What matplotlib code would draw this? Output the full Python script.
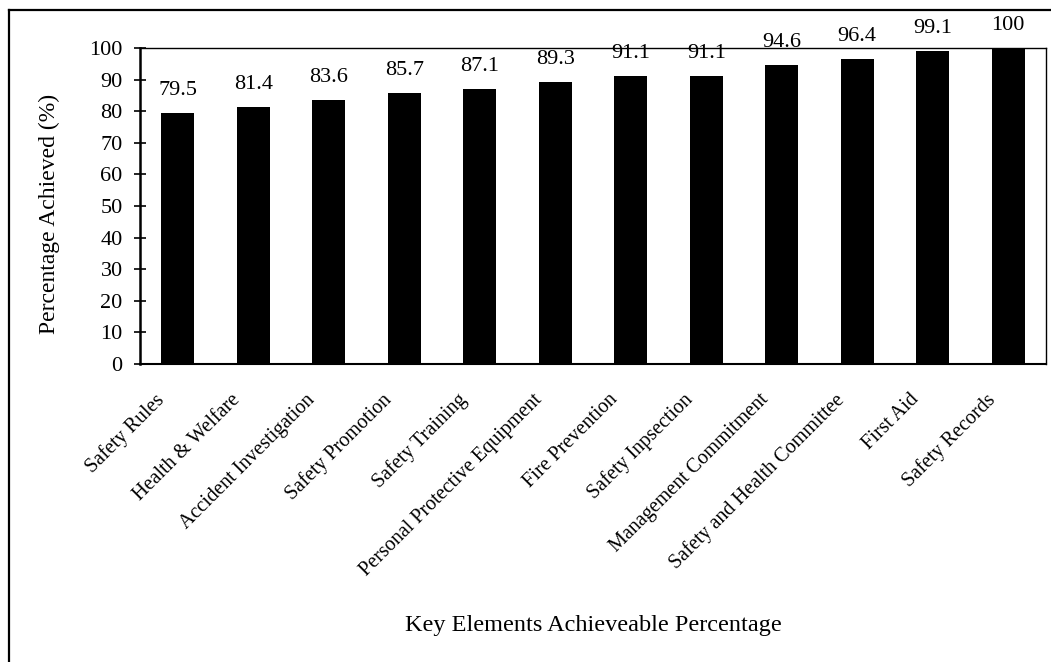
import matplotlib.pyplot as plt
from matplotlib.lines import Line2D
from matplotlib.transforms import ScaledTranslation

plt.rcParams['font.family'] = ['Liberation Serif', 'DejaVu Serif']

elements = ['Safety Rules', 'Health & Welfare', 'Accident Investigation',
            'Safety Promotion', 'Safety Training', 'Personal Protective Equipment',
            'Fire Prevention', 'Safety Inpsection', 'Management Commitment',
            'Safety and Health Committee', 'First Aid', 'Safety Records']
percent = [79.5, 81.4, 83.6, 85.7, 87.1, 89.3, 91.1, 91.1, 94.6, 96.4, 99.1, 100]
yticks = [0, 10, 20, 30, 40, 50, 60, 70, 80, 90, 100]

W, H = 1051, 662
fig = plt.figure(figsize=(W / 100, H / 100), dpi=100)
ax = fig.add_axes([140 / W, 1 - 364 / H, 906 / W, 316 / H])

x = list(range(len(elements)))
ax.bar(x, percent, width=0.44, color='black')
for xi, v in zip(x, percent):
    ax.annotate('%g' % v, (xi, v), xytext=(0, 9.5), textcoords='offset points',
                ha='center', va='bottom', fontsize=16, annotation_clip=False)

ax.set_xlim(-0.5, len(elements) - 0.5)
ax.set_ylim(0, 100)
ax.set_yticks(yticks)
ax.tick_params(axis='y', direction='inout', length=8, width=1.2, labelsize=16, pad=8.5)
ax.tick_params(axis='x', length=0, pad=6)
ax.set_xticks(x)
ax.set_xticklabels(elements, rotation=45, ha='right', va='top',
                   rotation_mode='anchor', fontsize=14.5)
# push the slanted labels down and to the left
shift = ScaledTranslation(-0.23, -0.18, fig.dpi_scale_trans)
for lbl in ax.get_xticklabels():
    lbl.set_transform(lbl.get_transform() + shift)

ax.spines['left'].set_linewidth(1.8)
ax.spines['bottom'].set_linewidth(1.5)
ax.spines['top'].set_linewidth(1.0)
ax.spines['right'].set_linewidth(1.0)

ax.set_ylabel('Percentage Achieved (%)', fontsize=17)
ax.yaxis.set_label_coords(-0.088, 0.475)
fig.text(593 / W, 1 - 625 / H, 'Key Elements Achieveable Percentage',
         ha='center', va='center', fontsize=17.5)

# outer frame, only left and top edges fall inside the canvas
fig.add_artist(Line2D([8.5 / W, 8.5 / W], [0, 1 - 9.5 / H], transform=fig.transFigure,
                      color='black', lw=1.6))
fig.add_artist(Line2D([8.5 / W, 1], [1 - 9.5 / H, 1 - 9.5 / H], transform=fig.transFigure,
                      color='black', lw=1.6))

fig.savefig('out.png', dpi=100)
